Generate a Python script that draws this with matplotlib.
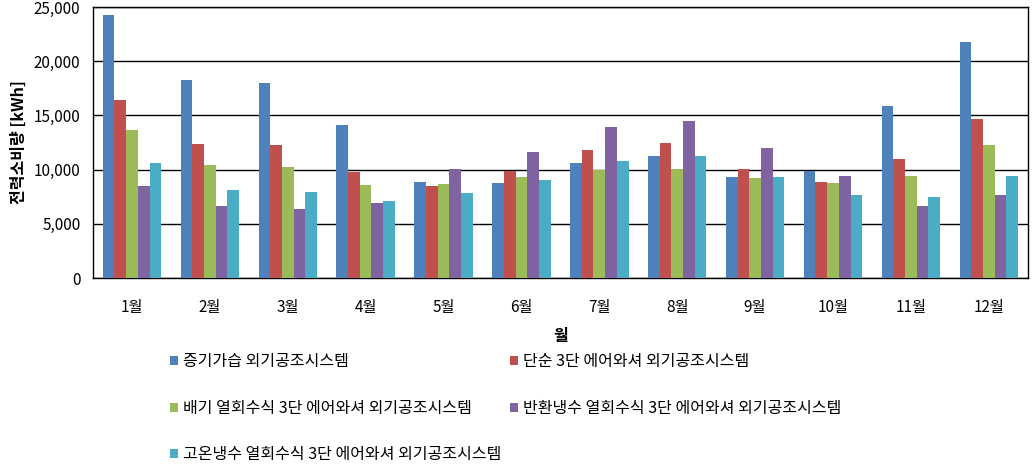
import matplotlib
matplotlib.use('Agg')
import matplotlib.pyplot as plt
import numpy as np

plt.rcParams['font.family'] = ['Noto Sans CJK KR', 'DejaVu Sans']

# data
months = ['1월', '2월', '3월', '4월', '5월', '6월', '7월', '8월', '9월', '10월', '11월', '12월']
series_names = ['증기가습 외기공조시스템',
                '단순 3단 에어와셔 외기공조시스템',
                '배기 열회수식 3단 에어와셔 외기공조시스템',
                '반환냉수 열회수식 3단 에어와셔 외기공조시스템',
                '고온냉수 열회수식 3단 에어와셔 외기공조시스템']
steam = [24300, 18300, 18000, 14150, 8850, 8750, 10650, 11250, 9300, 9850, 15900, 21800]
simple = [16400, 12400, 12300, 9750, 8450, 9850, 11850, 12500, 10100, 8900, 10950, 14700]
exhaust = [13700, 10400, 10200, 8550, 8650, 9300, 9950, 10100, 9200, 8750, 9400, 12300]
return_water = [8450, 6600, 6350, 6900, 10100, 11650, 13900, 14450, 11950, 9400, 6600, 7700]
hot_water = [10600, 8100, 7900, 7100, 7800, 9000, 10750, 11300, 9300, 7700, 7450, 9450]
colors = ['#4F81BD', '#C0504D', '#9BBB59', '#8064A2', '#4BACC6']

series = [steam, simple, exhaust, return_water, hot_water]

fig = plt.figure(figsize=(10.36, 4.70), dpi=100)
ax = fig.add_axes([0.0898, 0.4085, 0.9022, 0.5765])

x = np.arange(len(months))
width = 0.15
handles = []
for i, (vals, name, c) in enumerate(zip(series, series_names, colors)):
    h = ax.bar(x + (i - 2) * width, vals, width, color=c, label=name, zorder=3)
    handles.append(h)

ax.set_xlim(-0.5, len(months) - 0.5)
ax.set_ylim(0, 25000)
ax.set_yticks(np.arange(0, 25001, 5000))
ax.set_yticklabels([f'{v:,}' for v in range(0, 25001, 5000)], fontsize=11)
ax.set_xticks(x)
ax.set_xticklabels(months, fontsize=11)
ax.tick_params(axis='x', length=0, pad=15)
ax.tick_params(axis='y', length=0, pad=9)
ax.grid(axis='y', color='black', linewidth=1, zorder=0)
for s in ax.spines.values():
    s.set_color('black')
    s.set_linewidth(1)

ax.set_ylabel('전력소비량 [kWh]', fontsize=11.5, fontweight='bold', labelpad=5)
ax.set_xlabel('월', fontsize=11.5, fontweight='bold', labelpad=9)

# legend laid out in rows like the original
order = [0, 2, 4, 1, 3]
fig.legend([handles[i] for i in order], [series_names[i] for i in order],
           loc='upper left', bbox_to_anchor=(0.158, 0.262), ncol=2, frameon=False,
           fontsize=11.5, handlelength=0.5, handleheight=0.5, handletextpad=0.3,
           labelspacing=1.85, columnspacing=0.55, borderaxespad=0)

fig.savefig('out.png', dpi=100, facecolor='white')
